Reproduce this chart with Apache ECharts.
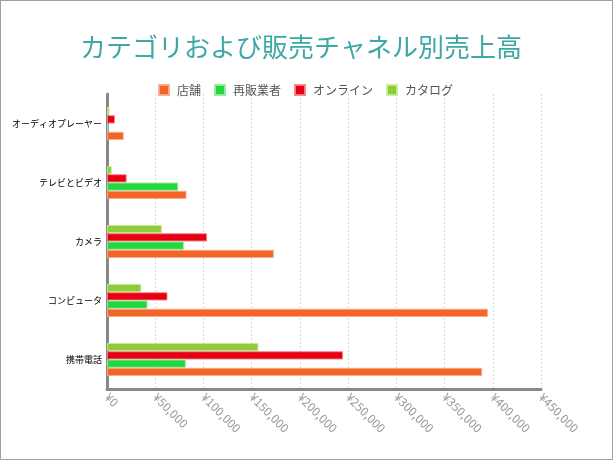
<!DOCTYPE html>
<html><head><meta charset="utf-8">
<script src="https://cdn.jsdelivr.net/npm/echarts@6/dist/echarts.min.js"></script>
<style>html,body{margin:0;padding:0;background:#fff}#c{width:613px;height:460px;box-sizing:border-box;border:1px solid #a0a0a0}</style>
</head><body><div id="c"></div>
<script>
const categories = ['携帯電話', 'コンピュータ', 'カメラ', 'テレビとビデオ', 'オーディオプレーヤー'];
const seriesNames = ['店舗', '再販業者', 'オンライン', 'カタログ'];
const store = [389000, 395000, 173000, 82400, 17300];
const reseller = [81700, 42000, 79700, 73800, 1500];
const online = [244800, 62700, 103800, 20400, 8300];
const catalog = [157000, 35500, 56900, 4900, 2500];
const xTicks = { min: 0, max: 450000, interval: 50000 };
const colors = ['#f46426', '#22d83a', '#e60012', '#8ecd36'];
const borders = ['rgba(246,170,140,0.9)', 'rgba(150,235,160,0.9)', 'rgba(245,130,140,0.9)', 'rgba(200,235,150,0.9)'];
const values = [store, reseller, online, catalog];

const chart = echarts.init(document.getElementById('c'), null, { renderer: 'canvas' });
const font = '"Noto Sans CJK JP", "Noto Sans", sans-serif';
// draw order reversed so that 店舗 sits at the bottom of each group
const order = [3, 2, 1, 0];
chart.setOption({
  animation: false,
  textStyle: { fontFamily: font },
  title: {
    text: 'カテゴリおよび販売チャネル別売上高',
    left: 74, top: 28,
    textStyle: { color: '#3ea8a6', fontSize: 26, fontWeight: 'normal', fontFamily: font }
  },
  legend: {
    top: 78, left: 152,
    itemWidth: 10, itemHeight: 10, itemGap: 13,
    icon: 'rect',
    textStyle: { color: '#555', fontSize: 12, fontFamily: font, padding: [0, 0, 0, 3] },
    data: seriesNames
  },
  grid: { left: 106, right: 71, top: 93, bottom: 70, containLabel: false, outerBoundsMode: 'none' },
  xAxis: {
    type: 'value', min: xTicks.min, max: xTicks.max, interval: xTicks.interval,
    axisLine: { show: true, lineStyle: { color: '#888', width: 3 } },
    axisTick: { show: false },
    axisLabel: {
      rotate: -45, color: '#999', fontSize: 12, margin: 6,
      formatter: v => '¥' + v.toLocaleString('en-US')
    },
    splitLine: { show: true, lineStyle: { color: '#d8d8d8', type: [2, 2], width: 1 } }
  },
  yAxis: {
    type: 'category', data: categories,
    axisLine: { show: true, lineStyle: { color: '#888', width: 3 } },
    axisTick: { show: false },
    axisLabel: { color: '#000', fontSize: 9, margin: 5 },
    splitLine: { show: false }
  },
  series: order.map(i => ({
    name: seriesNames[i], type: 'bar', data: values[i],
    barGap: '0%', barCategoryGap: '44%',
    itemStyle: { color: colors[i], borderColor: borders[i], borderWidth: 1 }
  }))
});
</script></body></html>
